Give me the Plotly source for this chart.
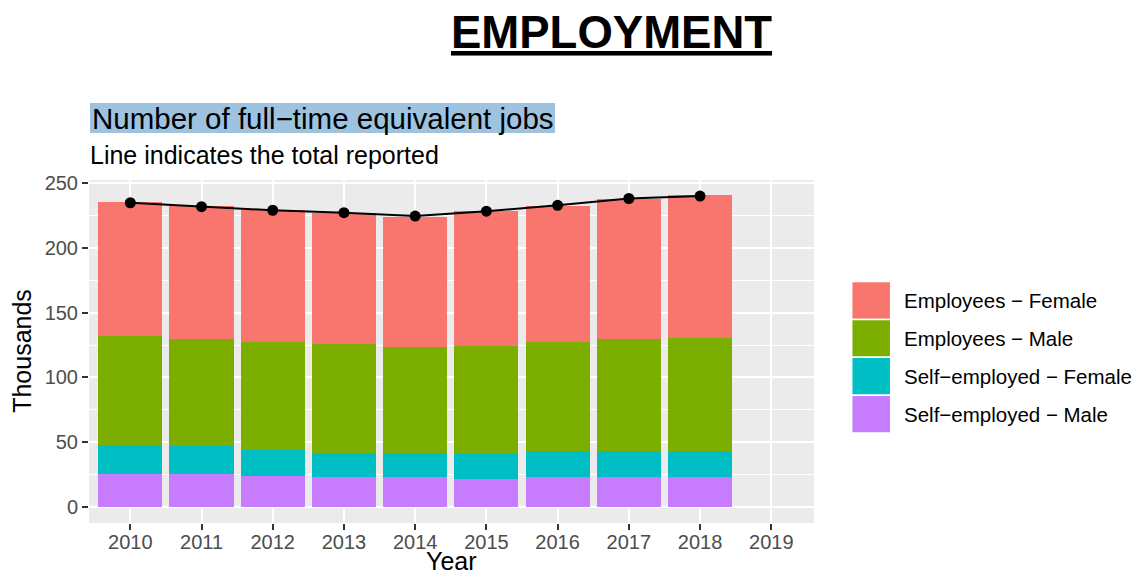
import plotly.graph_objects as go

# ---- data ----
years = [2010, 2011, 2012, 2013, 2014, 2015, 2016, 2017, 2018]
axis_years = [2010, 2011, 2012, 2013, 2014, 2015, 2016, 2017, 2018, 2019]
se_male = [25.4, 25.4, 24.1, 22.8, 22.8, 21.3, 22.8, 22.8, 22.8]
se_female = [22.3, 21.5, 20.0, 18.7, 18.7, 19.4, 20.3, 20.3, 20.3]
emp_male = [84.4, 82.9, 83.1, 84.4, 81.8, 83.7, 84.1, 86.4, 87.7]
emp_female = [103.3, 102.5, 102.0, 101.5, 100.8, 104.1, 105.6, 108.2, 110.0]
total_reported = [235.0, 232.0, 229.2, 227.3, 224.7, 228.5, 233.0, 238.3, 240.2]
y_ticks = [0, 50, 100, 150, 200, 250]

series_names = ["Self\u2212employed \u2212 Male", "Self\u2212employed \u2212 Female",
                "Employees \u2212 Male", "Employees \u2212 Female"]
series_vals = [se_male, se_female, emp_male, emp_female]
series_cols = ["#C77CFF", "#00BFC4", "#7CAE00", "#F8766D"]

FONT = "Liberation Sans, Arial, sans-serif"
OFF = 8  # page body margin in the browser
W, H = 1142 - OFF, 575 - OFF
L, R, T, B = 89 - OFF, 814 - OFF, 180 - OFF, 523.3 - OFF


def px(x):
    # x given in reference-picture pixels
    return (x - OFF - L) / (R - L)


def py(y):
    return (B - (y - OFF)) / (B - T)


fig = go.Figure()
for name, vals, col in zip(series_names, series_vals, series_cols):
    fig.add_trace(go.Bar(x=years, y=vals, name=name, width=0.9,
                         marker=dict(color=col, line=dict(width=0)),
                         showlegend=False))

fig.add_trace(go.Scatter(x=years, y=total_reported, mode="lines+markers",
                         line=dict(color="black", width=2),
                         marker=dict(color="black", size=11),
                         showlegend=False))

fig.update_layout(
    width=W, height=H, autosize=False,
    margin=dict(l=L, r=W - R, t=T, b=H - B, pad=0),
    barmode="stack", bargap=0,
    paper_bgcolor="white", plot_bgcolor="#EBEBEB",
    font=dict(family=FONT, color="black"),
    showlegend=False,
)
fig.update_xaxes(
    range=[2009.42, 2019.6], tickmode="array", tickvals=axis_years,
    ticktext=[str(y) for y in axis_years],
    showgrid=True, gridcolor="white", gridwidth=2.4,
    ticks="outside", ticklen=6, tickwidth=2, tickcolor="#333333",
    tickfont=dict(size=20, color="#4D4D4D", family=FONT),
    ticklabelstandoff=-5,
    zeroline=False, showline=False,
)
fig.update_yaxes(
    range=[-12.6, 252.6], tickmode="array", tickvals=y_ticks,
    showgrid=True, gridcolor="white", gridwidth=2.4,
    minor=dict(showgrid=True, gridcolor="white", gridwidth=1.2, dtick=25, tick0=0),
    ticks="outside", ticklen=6, tickwidth=2, tickcolor="#333333",
    tickfont=dict(size=20, color="#4D4D4D", family=FONT),
    zeroline=False, showline=False,
)

shapes = []
annotations = []

# main title
annotations.append(dict(text="<b><u>EMPLOYMENT</u></b>", x=px(611), y=py(32),
                        xref="paper", yref="paper", xanchor="center", yanchor="middle",
                        showarrow=False, font=dict(size=45.5, color="black", family=FONT)))
# highlighted plot title
shapes.append(dict(type="rect", xref="paper", yref="paper",
                   x0=px(90), x1=px(555), y0=py(133), y1=py(103),
                   fillcolor="#9DC3E0", line=dict(width=0), layer="above"))
annotations.append(dict(text="Number of full\u2212time equivalent jobs", x=px(90), y=py(118),
                        xref="paper", yref="paper", xanchor="left", yanchor="middle",
                        showarrow=False, font=dict(size=29.5, color="black", family=FONT)))
annotations.append(dict(text="Line indicates the total reported", x=px(88), y=py(155),
                        xref="paper", yref="paper", xanchor="left", yanchor="middle",
                        showarrow=False, font=dict(size=25, color="black", family=FONT)))
# axis titles
annotations.append(dict(text="Year", x=px(451), y=py(561),
                        xref="paper", yref="paper", xanchor="center", yanchor="middle",
                        showarrow=False, font=dict(size=25, color="black", family=FONT)))
annotations.append(dict(text="Thousands", x=px(22), y=py(351), textangle=-90,
                        xref="paper", yref="paper", xanchor="center", yanchor="middle",
                        showarrow=False, font=dict(size=25, color="black", family=FONT)))

# legend (top to bottom: reverse of stacking order)
row_h = (433.3 - 281.7) / 4
for i, (name, col) in enumerate(zip(series_names[::-1], series_cols[::-1])):
    y0 = 281.7 + i * row_h
    shapes.append(dict(type="rect", xref="paper", yref="paper",
                       x0=px(851.7), x1=px(890.7), y0=py(y0 + row_h), y1=py(y0),
                       fillcolor=col, line=dict(color="white", width=1.5)))
    annotations.append(dict(text=name, x=px(902), y=py(y0 + row_h / 2),
                            xref="paper", yref="paper", xanchor="left", yanchor="middle",
                            showarrow=False, font=dict(size=20.5, color="black", family=FONT)))

fig.update_layout(shapes=shapes, annotations=annotations)
fig.write_html("out.html")
